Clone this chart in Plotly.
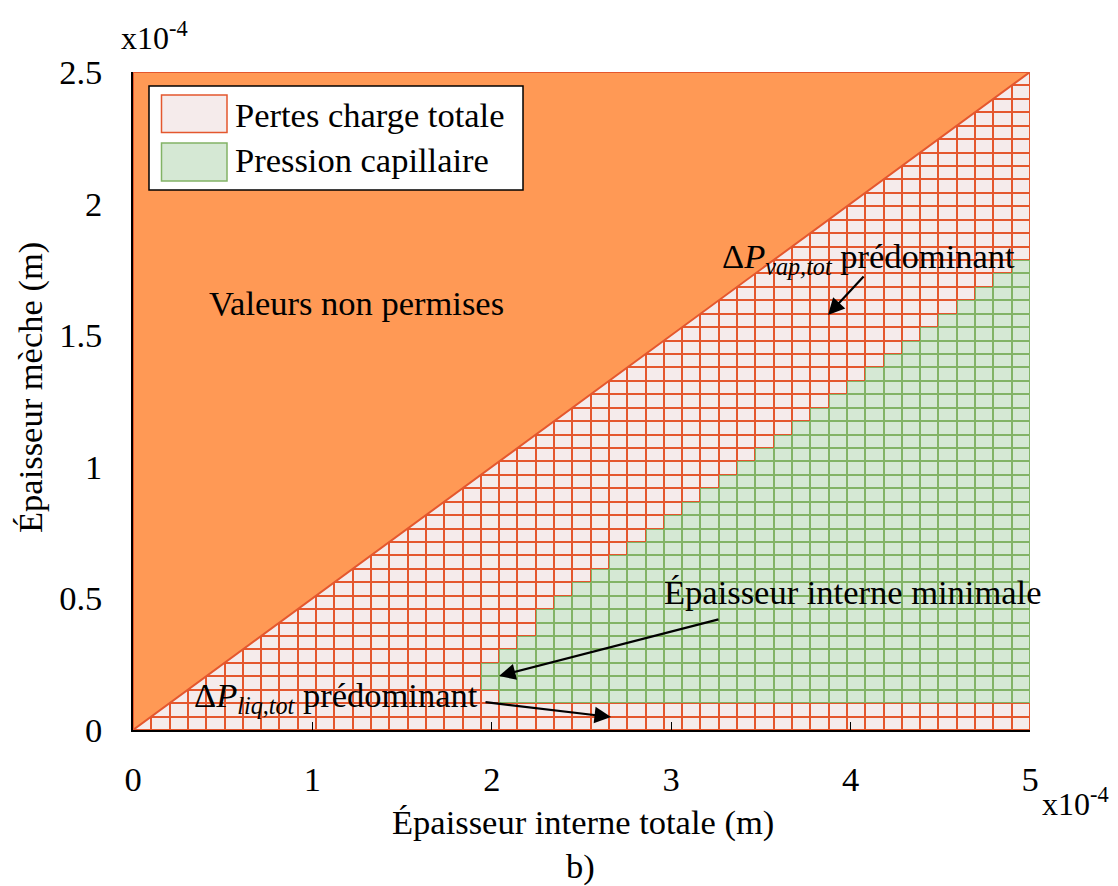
import numpy as np
import plotly.graph_objects as go

# ---------------- data ----------------
# grid edges (m)
x_edges = np.linspace(0, 5e-4, 50)     # Épaisseur interne totale
y_edges = np.linspace(0, 2.5e-4, 50)   # Épaisseur mèche
# per-column green ("Pression capillaire") band: [bottom row, top row)
green_bottom = [0] * 19 + [3] + [2] * 29
green_top = [0] * 19 + [5, 6, 7, 9, 10, 11, 12, 13, 14, 15, 16, 17, 18, 19, 20,
                        21, 22, 23, 24, 25, 26, 27, 28, 29, 30, 31, 32, 33, 34, 35]
# forbidden region (wick thicker than half total thickness)
forbidden_x = [0, 5e-4, 0, 0]
forbidden_y = [0, 2.5e-4, 2.5e-4, 0]
x_tickvals = [0, 1e-4, 2e-4, 3e-4, 4e-4, 5e-4]
x_ticktext = ["0", "1", "2", "3", "4", "5"]
y_tickvals = [0, 0.5e-4, 1e-4, 1.5e-4, 2e-4, 2.5e-4]
y_ticktext = ["0", "0.5", "1", "1.5", "2", "2.5"]

# ---------------- style ----------------
FONT = "Liberation Serif"
FS = 34.5
ORANGE = "#FF9955"
RED = "#E4572E"
PINK = "#F5EBEB"
GREEN_FILL = "#D5E8D4"
GREEN_LINE = "#82B366"

ncols = len(x_edges) - 1
nrows = len(y_edges) - 1
z = [[1 if green_bottom[i] <= j < green_top[i] else 0 for i in range(ncols)]
     for j in range(nrows)]

fig = go.Figure()
fig.add_trace(go.Heatmap(
    x=x_edges, y=y_edges, z=z, zmin=0, zmax=1, showscale=False, hoverinfo="skip",
    colorscale=[[0, RED], [0.5, RED], [0.5, GREEN_LINE], [1, GREEN_LINE]]))
fig.add_trace(go.Heatmap(
    x=x_edges, y=y_edges, z=z, zmin=0, zmax=1, showscale=False, hoverinfo="skip",
    xgap=2, ygap=2,
    colorscale=[[0, PINK], [0.5, PINK], [0.5, GREEN_FILL], [1, GREEN_FILL]]))
fig.add_trace(go.Scatter(
    x=forbidden_x, y=forbidden_y, mode="lines", fill="toself",
    fillcolor=ORANGE, line=dict(color=RED, width=2), hoverinfo="skip",
    showlegend=False))

# page has an 8px body margin: figure is offset by 8px
OFF = 8
PAGE_W, PAGE_H = 1118, 886
PL, PR, PT, PB = 133, 1030, 72, 730   # plot area on page
W, H = PAGE_W - OFF, PAGE_H - OFF
L, T = PL - OFF, PT - OFF
R = W - (PR - OFF)
B = H - (PB - OFF)
PW, PH = PR - PL, PB - PT


def px(xp):
    return (xp - PL) / PW


def py(yp):
    return (PB - yp) / PH


def dx(xp):
    return (xp - PL) / PW * 5e-4


def dy(yp):
    return (PB - yp) / PH * 2.5e-4


shapes = [
    dict(type="rect", xref="paper", yref="paper", x0=px(149), x1=px(523),
         y0=py(190), y1=py(86), fillcolor="white", line=dict(color="black", width=1.5),
         layer="above"),
    dict(type="rect", xref="paper", yref="paper", x0=px(161.5), x1=px(227),
         y0=py(132.5), y1=py(95), fillcolor=PINK, line=dict(color=RED, width=1.5),
         layer="above"),
    dict(type="rect", xref="paper", yref="paper", x0=px(161.5), x1=px(227),
         y0=py(181), y1=py(143), fillcolor=GREEN_FILL, line=dict(color=GREEN_LINE, width=1.5),
         layer="above"),
]

ann = []
tf = dict(family=FONT, size=FS, color="black")
ann.append(dict(xref="paper", yref="paper", x=px(233), y=py(115), text="Pertes charge totale",
                showarrow=False, xanchor="left", yanchor="middle", font=tf))
ann.append(dict(xref="paper", yref="paper", x=px(233), y=py(160), text="Pression capillaire",
                showarrow=False, xanchor="left", yanchor="middle", font=tf))
ann.append(dict(xref="x", yref="y", x=dx(207), y=dy(303), text="Valeurs non permises",
                showarrow=False, xanchor="left", yanchor="middle", font=tf))
ann.append(dict(xref="x", yref="y", x=dx(720), y=dy(258),
                text="Δ<i>P</i><sub><i>vap,tot</i></sub> prédominant",
                showarrow=False, xanchor="left", yanchor="middle", font=tf))
ann.append(dict(xref="x", yref="y", x=dx(662), y=dy(592),
                text="Épaisseur interne minimale",
                showarrow=False, xanchor="left", yanchor="middle", font=tf))
ann.append(dict(xref="x", yref="y", x=dx(192), y=dy(697),
                text="Δ<i>P</i><sub><i>liq,tot</i></sub> prédominant",
                showarrow=False, xanchor="left", yanchor="middle", font=tf))
for (x0, y0, x1, y1) in [(865, 275, 828, 315), (720, 619, 499, 676), (484, 702, 611, 717)]:
    ann.append(dict(xref="x", yref="y", axref="x", ayref="y", x=dx(x1), y=dy(y1),
                    ax=dx(x0), ay=dy(y0), text="", showarrow=True, arrowhead=2,
                    arrowsize=1.5, arrowwidth=2.2, arrowcolor="black"))
ann.append(dict(xref="paper", yref="paper", x=px(583), y=py(822),
                text="Épaisseur interne totale (m)", showarrow=False,
                xanchor="center", yanchor="middle", font=tf))
ann.append(dict(xref="paper", yref="paper", x=px(30), y=py(388),
                text="Épaisseur mèche (m)", showarrow=False, textangle=-90,
                xanchor="center", yanchor="middle", font=tf))
ann.append(dict(xref="paper", yref="paper", x=px(580), y=py(866),
                text="b)", showarrow=False, xanchor="center", yanchor="middle", font=tf))
ann.append(dict(xref="paper", yref="paper", x=px(119), y=py(36),
                text="x10<sup>-4</sup>", showarrow=False, xanchor="left",
                yanchor="middle", font=dict(family=FONT, size=32, color="black")))
ann.append(dict(xref="paper", yref="paper", x=px(1111), y=py(802),
                text="x10<sup>-4</sup>", showarrow=False, xanchor="right",
                yanchor="middle", font=dict(family=FONT, size=32, color="black")))

fig.update_layout(
    width=W, height=H, margin=dict(l=L, r=R, t=T, b=B, pad=0),
    paper_bgcolor="white", plot_bgcolor="white", showlegend=False,
    font=dict(family=FONT, size=FS, color="black"),
    shapes=shapes, annotations=ann,
    xaxis=dict(range=[0, 5e-4], tickvals=x_tickvals, ticktext=x_ticktext,
               showgrid=False, zeroline=False, showline=True, linecolor="black",
               linewidth=1.5, ticks="inside", ticklen=8, tickwidth=1.2, tickcolor="black",
               ticklabelstandoff=18, tickfont=dict(family=FONT, size=FS)),
    yaxis=dict(range=[0, 2.5e-4], tickvals=y_tickvals, ticktext=y_ticktext,
               showgrid=False, zeroline=False, showline=True, linecolor="black",
               linewidth=1.5, ticks="", ticklabelstandoff=22,
               tickfont=dict(family=FONT, size=FS)),
)

fig.write_html("out.html")
